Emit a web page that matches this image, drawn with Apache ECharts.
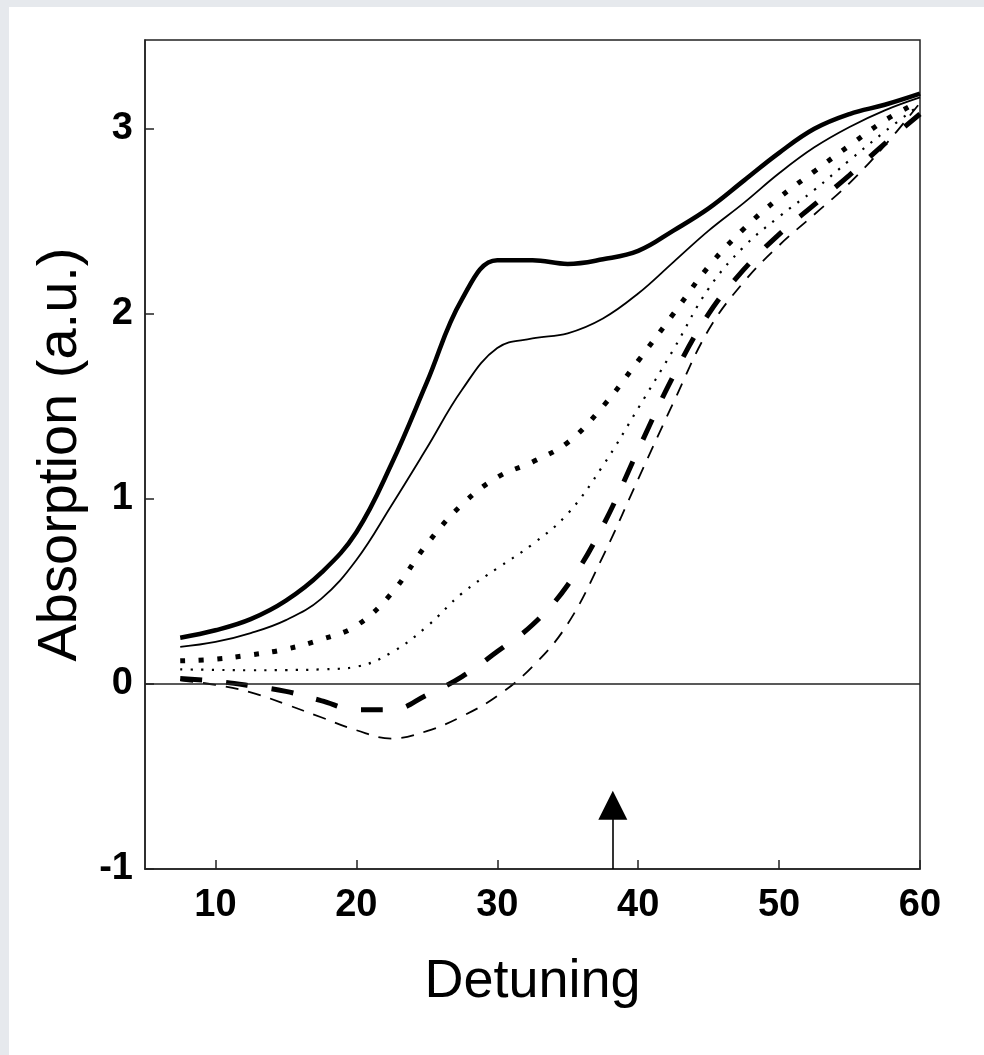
<!DOCTYPE html>
<html>
<head>
<meta charset="utf-8">
<script src="https://cdn.jsdelivr.net/npm/echarts@6/dist/echarts.min.js"></script>
<style>
  html, body { margin: 0; padding: 0; background: #e6e9ed; width: 984px; height: 1055px; overflow: hidden; }
  #chart { position: absolute; left: 9px; top: 7px; width: 975px; height: 1048px; background: #ffffff; }
</style>
</head>
<body>
<div id="chart"></div>
<script>
// Detuning values (x)
const detuning = [7.5, 10, 12.5, 15, 17.5, 20, 22.5, 25, 27.5, 30, 32.5, 35, 37.5, 40, 42.5, 45, 47.5, 50, 52.5, 55, 57.5, 60];
// Absorption curves
const thickSolid  = [0.25, 0.29, 0.35, 0.45, 0.6, 0.82, 1.19, 1.63, 2.08, 2.29, 2.29, 2.27, 2.295, 2.34, 2.45, 2.57, 2.72, 2.87, 3.0, 3.08, 3.13, 3.19];
const thinSolid   = [0.2, 0.227, 0.275, 0.345, 0.46, 0.67, 0.966, 1.275, 1.59, 1.815, 1.867, 1.895, 1.975, 2.11, 2.28, 2.45, 2.6, 2.76, 2.9, 3.01, 3.1, 3.17];
const thickDotted = [0.125, 0.134, 0.157, 0.188, 0.24, 0.315, 0.49, 0.755, 0.97, 1.117, 1.2, 1.305, 1.5, 1.746, 2.0, 2.256, 2.46, 2.627, 2.77, 2.91, 3.045, 3.15];
const thinDotted  = [0.079, 0.076, 0.074, 0.075, 0.079, 0.093, 0.17, 0.31, 0.49, 0.625, 0.755, 0.92, 1.18, 1.49, 1.807, 2.137, 2.363, 2.525, 2.67, 2.83, 2.985, 3.13];
const thickDashed = [0.03, 0.015, -0.01, -0.04, -0.09, -0.14, -0.14, -0.06, 0.04, 0.175, 0.32, 0.535, 0.855, 1.265, 1.665, 2.0, 2.24, 2.43, 2.59, 2.75, 2.92, 3.08];
const thinDashed  = [0.02, -0.005, -0.045, -0.11, -0.18, -0.25, -0.295, -0.255, -0.175, -0.065, 0.094, 0.325, 0.69, 1.107, 1.52, 1.914, 2.173, 2.37, 2.537, 2.707, 2.91, 3.14];
// Axis ticks
const xTicks = [10, 20, 30, 40, 50, 60];
const yTicks = [-1, 0, 1, 2, 3];
// Arrow marker position
const arrowX = 38.2;
const arrowFrom = -1;
const arrowTo = -0.655;

const pair = (ys) => detuning.map((x, i) => [x, ys[i]]);
const font = '"Liberation Sans", Arial, Helvetica, sans-serif';
const black = '#000';

const chart = echarts.init(document.getElementById('chart'), null, { renderer: 'canvas' });

function lineSeries(name, ys, width, type) {
  return {
    name: name,
    type: 'line',
    data: pair(ys),
    smooth: 0.4,
    showSymbol: false,
    symbol: 'none',
    silent: true,
    lineStyle: { color: black, width: width, type: type, cap: 'butt' },
    z: 3
  };
}

const series = [
  lineSeries('thickSolid', thickSolid, 4.5, 'solid'),
  lineSeries('thinSolid', thinSolid, 1.8, 'solid'),
  lineSeries('thickDotted', thickDotted, 5, [5, 13.5]),
  lineSeries('thinDotted', thinDotted, 2.2, [2.2, 8.3]),
  lineSeries('thickDashed', thickDashed, 5, [22, 24]),
  lineSeries('thinDashed', thinDashed, 1.8, [13, 10])
];

series[0].markLine = {
  silent: true,
  symbol: 'none',
  label: { show: false },
  lineStyle: { color: '#222', width: 1.5, type: 'solid' },
  data: [{ yAxis: 0 }]
};

series.push({
  type: 'line',
  data: [],
  silent: true,
  markLine: {
    silent: true,
    symbol: ['none', 'triangle'],
    symbolSize: 29,
    label: { show: false },
    lineStyle: { color: black, width: 1.6, type: 'solid' },
    itemStyle: { color: black },
    data: [[{ coord: [arrowX, arrowFrom] }, { coord: [arrowX, arrowTo] }]]
  }
});

chart.setOption({
  animation: false,
  backgroundColor: '#ffffff',
  grid: {
    left: 136, right: 64, top: 33, bottom: 186,
    show: true, borderColor: '#222', borderWidth: 1.5, backgroundColor: 'transparent'
  },
  xAxis: {
    type: 'value',
    min: 5, max: 60,
    name: 'Detuning',
    nameLocation: 'middle',
    nameGap: 86,
    nameTextStyle: { fontFamily: font, fontSize: 54, color: black },
    axisLine: { show: true, onZero: false, lineStyle: { color: '#222', width: 1.5 } },
    axisTick: { show: true, inside: true, length: 9, customValues: xTicks, lineStyle: { color: '#222', width: 1.5 } },
    axisLabel: { customValues: xTicks, fontFamily: font, fontSize: 38, fontWeight: 'bold', color: black, margin: 18 },
    splitLine: { show: false }
  },
  yAxis: {
    type: 'value',
    min: -1, max: 3.48,
    name: 'Absorption (a.u.)',
    nameLocation: 'middle',
    nameGap: 52,
    nameRotate: 90,
    nameTextStyle: { fontFamily: font, fontSize: 56, color: black },
    axisLine: { show: true, onZero: false, lineStyle: { color: '#222', width: 1.5 } },
    axisTick: { show: true, inside: true, length: 9, customValues: yTicks, lineStyle: { color: '#222', width: 1.5 } },
    axisLabel: { customValues: yTicks, fontFamily: font, fontSize: 38, fontWeight: 'bold', color: black, margin: 12 },
    splitLine: { show: false }
  },
  series: series
});
</script>
</body>
</html>
